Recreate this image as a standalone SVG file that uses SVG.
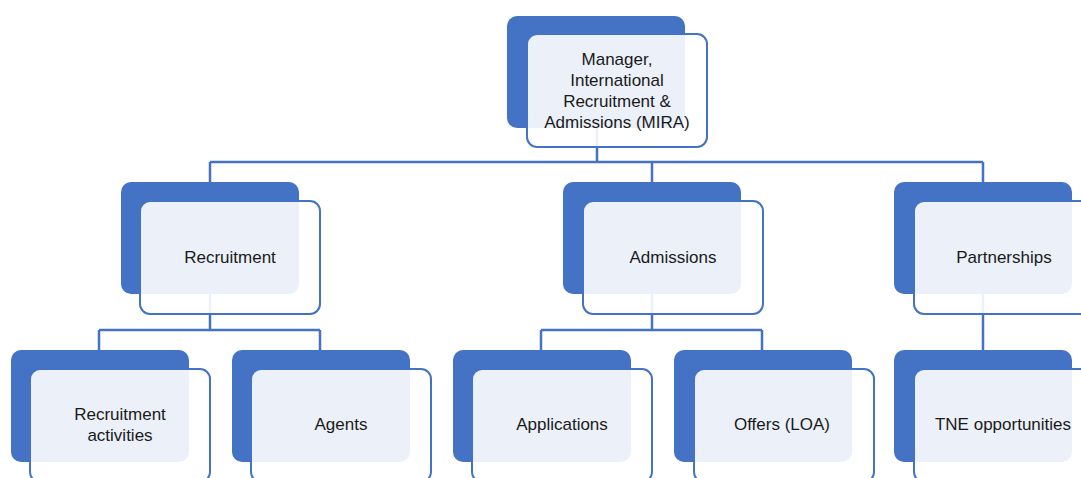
<svg xmlns="http://www.w3.org/2000/svg" width="1081" height="478" viewBox="0 0 1081 478">
<style>
.c{fill:none;stroke:#4472C4;stroke-width:2.5}
.b{fill:#4472C4}
.o{fill:#fff;fill-opacity:0.9;stroke:#4472C4;stroke-width:2}
.t{font-family:"Liberation Sans",Arial,sans-serif;font-size:17px;fill:#1a1a1a;text-anchor:middle}
</style>
<rect width="1081" height="478" fill="#fff"/>
<g id="connectors">
<path class="c" d="M597 127V162M210 162H983M210 162V182M652 162V182M983 162V182"/>
<path class="c" d="M210 294V330M99 330H320M99 330V350M320 330V350"/>
<path class="c" d="M652 294V330M541 330H762M541 330V350M762 330V350"/>
<path class="c" d="M983 294V350"/>
</g>
<g id="n-mira">
<rect class="b" x="507" y="16" width="178" height="112" rx="10"/>
<rect class="o" x="527" y="34" width="180" height="113" rx="10"/>
<text class="t" x="617"><tspan x="617" y="65">Manager,</tspan><tspan x="617" y="86">International</tspan><tspan x="617" y="107">Recruitment &amp;</tspan><tspan x="617" y="128">Admissions (MIRA)</tspan></text>
</g>
<g id="n-recruitment">
<rect class="b" x="121" y="182" width="178" height="112" rx="10"/>
<rect class="o" x="140" y="201" width="180" height="113" rx="10"/>
<text class="t" x="230" y="263">Recruitment</text>
</g>
<g id="n-admissions">
<rect class="b" x="563" y="182" width="178" height="112" rx="10"/>
<rect class="o" x="583" y="201" width="180" height="113" rx="10"/>
<text class="t" x="673" y="263">Admissions</text>
</g>
<g id="n-partnerships">
<rect class="b" x="894" y="182" width="178" height="112" rx="10"/>
<rect class="o" x="914" y="201" width="180" height="113" rx="10"/>
<text class="t" x="1004" y="263">Partnerships</text>
</g>
<g id="n-activities">
<rect class="b" x="11" y="350" width="178" height="112" rx="10"/>
<rect class="o" x="30" y="369" width="180" height="113" rx="10"/>
<text class="t"><tspan x="120" y="420">Recruitment</tspan><tspan x="120" y="441">activities</tspan></text>
</g>
<g id="n-agents">
<rect class="b" x="232" y="350" width="178" height="112" rx="10"/>
<rect class="o" x="251" y="369" width="180" height="113" rx="10"/>
<text class="t" x="341" y="430">Agents</text>
</g>
<g id="n-applications">
<rect class="b" x="453" y="350" width="178" height="112" rx="10"/>
<rect class="o" x="472" y="369" width="180" height="113" rx="10"/>
<text class="t" x="562" y="430">Applications</text>
</g>
<g id="n-offers">
<rect class="b" x="674" y="350" width="178" height="112" rx="10"/>
<rect class="o" x="694" y="369" width="180" height="113" rx="10"/>
<text class="t" x="782" y="430">Offers (LOA)</text>
</g>
<g id="n-tne">
<rect class="b" x="894" y="350" width="178" height="112" rx="10"/>
<rect class="o" x="914" y="369" width="180" height="113" rx="10"/>
<text class="t" x="1003" y="430">TNE opportunities</text>
</g>
</svg>
